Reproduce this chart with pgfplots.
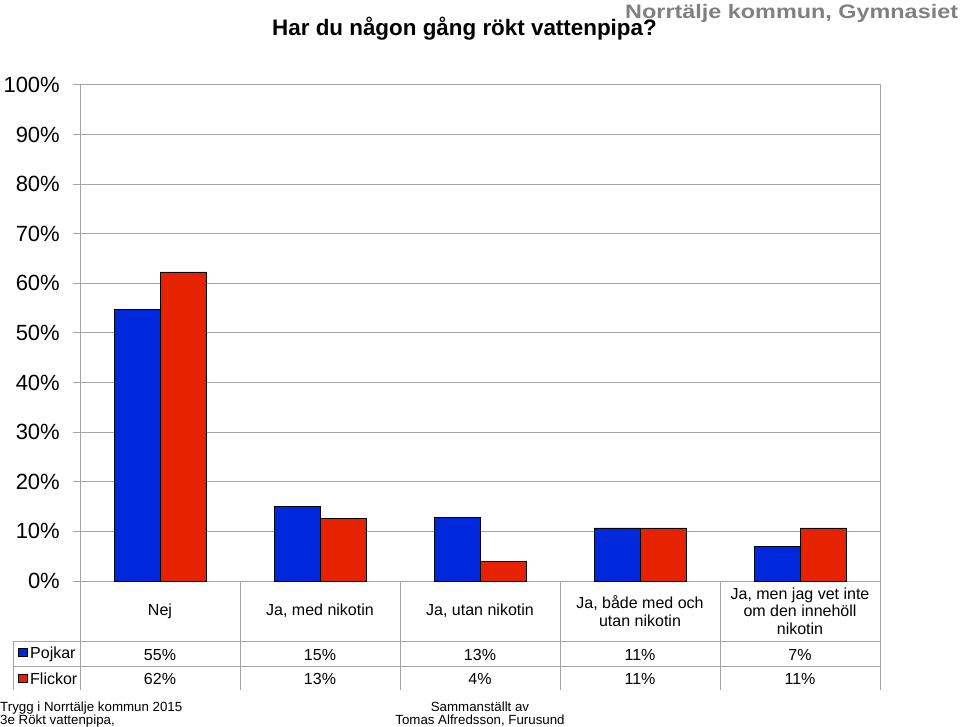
\documentclass[border=0pt]{standalone}
\usepackage{pgfplots}
\pgfplotsset{compat=1.18}
\usepackage{fontspec}
\setmainfont{Liberation Sans}
\definecolor{pojk}{RGB}{0,40,220}
\definecolor{flick}{RGB}{230,35,0}
\definecolor{gridg}{RGB}{165,165,165}
\definecolor{headg}{RGB}{128,128,128}

\begin{document}
\begin{tikzpicture}[x=1pt,y=1pt]
\useasboundingbox (0,0) rectangle (960,726);

% titles
\node[anchor=base west, inner sep=0pt] at (625,707)
  {\scalebox{1.2}[1]{\fontsize{19.5}{21}\selectfont\bfseries\color{headg}Norrtälje kommun, Gymnasiet}};
\node[anchor=base west, inner sep=0pt] at (272,690)
  {\fontsize{22.4}{24}\selectfont\bfseries Har du någon gång rökt vattenpipa?};

\begin{axis}[
    at={(80pt,145pt)}, anchor=south west,
    width=800pt, height=496pt, scale only axis,
    xmin=0, xmax=5, ymin=0, ymax=100,
    ybar=0pt, bar width=46pt,
    xtick=\empty,
    ytick={0,10,...,100},
    yticklabels={0\%,10\%,20\%,30\%,40\%,50\%,60\%,70\%,80\%,90\%,100\%},
    ymajorgrids,
    grid style={gridg, line width=1pt},
    axis line style={gridg, line width=1pt},
    tick pos=left, tick align=outside, major tick length=7pt,
    tick style={gridg, line width=1pt},
    yticklabel style={font=\fontsize{22}{24}\selectfont, text=black, inner sep=0pt, xshift=-13pt},
]
\addplot[fill=pojk, draw=black, line width=0.8pt]
  coordinates {(0.5,54.8) (1.5,15.1) (2.5,12.9) (3.5,10.7) (4.5,6.9)};
\addplot[fill=flick, draw=black, line width=0.8pt]
  coordinates {(0.5,62.3) (1.5,12.7) (2.5,4.0) (3.5,10.7) (4.5,10.7)};
\end{axis}

% data table
\begin{scope}[gridg, line width=1pt]
  \foreach \x in {80,240,400,560,720,880} \draw (\x,145) -- (\x,36);
  \draw (13,85) -- (880,85);
  \draw (13,60) -- (880,60);
  \draw (13,85) -- (13,36);
\end{scope}

\begin{scope}[every node/.style={font=\fontsize{16}{17.5}\selectfont, align=center, inner sep=0pt}]
  \node at (160,115) {Nej};
  \node at (320,115) {Ja, med nikotin};
  \node at (480,115) {Ja, utan nikotin};
  \node at (640,115) {Ja, både med och\\utan nikotin};
  \node at (800,115) {Ja, men jag vet inte\\om den innehöll\\nikotin};

  \node at (160,71) {55\%};
  \node at (320,71) {15\%};
  \node at (480,71) {13\%};
  \node at (640,71) {11\%};
  \node at (800,71) {7\%};

  \node at (160,47) {62\%};
  \node at (320,47) {13\%};
  \node at (480,47) {4\%};
  \node at (640,47) {11\%};
  \node at (800,47) {11\%};

  \node[anchor=west] at (30,72) {Pojkar};
  \node[anchor=west] at (30,47) {Flickor};
\end{scope}
\draw[fill=pojk, draw=black, line width=0.6pt] (18,70) rectangle (27,78);
\draw[fill=flick, draw=black, line width=0.6pt] (18,44) rectangle (27,52);

% footer
\begin{scope}[every node/.style={font=\fontsize{13.3}{14}\selectfont, inner sep=0pt}]
  \node[anchor=base west] at (0,15) {Trygg i Norrtälje kommun 2015};
  \node[anchor=base west] at (0,2) {3e Rökt vattenpipa,};
  \node[anchor=base] at (480,15) {Sammanställt av};
  \node[anchor=base] at (480,2) {Tomas Alfredsson, Furusund};
\end{scope}
\end{tikzpicture}
\end{document}
